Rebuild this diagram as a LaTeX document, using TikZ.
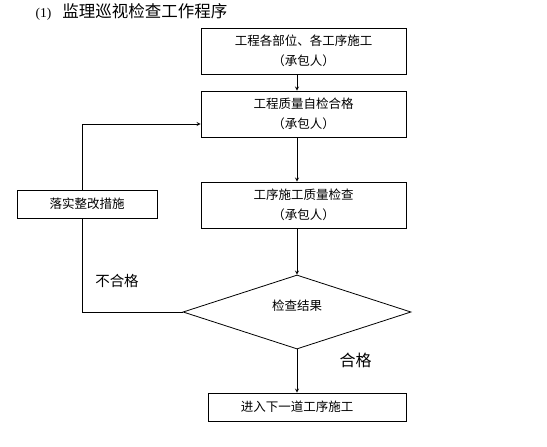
\documentclass[tikz,border=0pt]{standalone}
\usepackage{fontspec}
\setmainfont{Liberation Serif}
\newfontfamily\cjk{Noto Sans CJK SC}
\usetikzlibrary{shapes.geometric}
\begin{document}
\begin{tikzpicture}[x=1pt,y=-1pt]

% definitions
\tikzstyle{process} = [rectangle, minimum width=205pt, minimum height=46pt, inner sep=0pt, text centered, align=center, draw=black, line width=0.8pt, font=\cjk\fontsize{12.5}{20}\selectfont]

\tikzstyle{smallbox} = [rectangle, minimum height=28pt, inner sep=0pt, text centered, draw=black, fill=white, line width=0.8pt, font=\cjk\fontsize{12.5}{15}\selectfont]

\tikzstyle{decision} = [diamond, minimum width=228pt, minimum height=74pt, inner sep=0pt, draw=black, line width=0.8pt, font=\cjk\fontsize{12.5}{15}\selectfont]

\tikzstyle{remark} = [inner sep=0pt, font=\cjk\fontsize{14.5}{17}\selectfont]

\tikzstyle{arrow} = [->,>=stealth, line width=0.8pt]

\useasboundingbox (0,0) rectangle (547,447);

% the graph
\node (title) [anchor=west, inner sep=0pt] at (35.5,12) {\fontsize{13.5}{16}\selectfont (1)\hspace{11pt}{\cjk\fontsize{16.5}{18}\selectfont 监理巡视检查工作程序}};

\node (b1) [process] at (303.5,51) {工程各部位、各工序施工\\（承包人）};

\node (b2) [process] at (303.5,114) {工程质量自检合格\\（承包人）};

\node (b3) [process] at (303.5,205) {工序施工质量检查\\（承包人）};

\node (chk) [decision] at (297,312) {\raisebox{2pt}[0pt][0pt]{检查结果}};

\node (b4) [smallbox, minimum width=198pt] at (307,407) {进入下一道工序施工\hspace*{20pt}};

\node (no) [remark] at (117,281) {不合格};

\node (yes) [remark, font=\cjk\fontsize{16}{18}\selectfont] at (355.5,360) {合格};

\coordinate (turn) at (82,312);

\draw [arrow] (b1.south -| chk) -- (b2.north -| chk);
\draw [arrow] (b2.south -| chk) -- (b3.north -| chk);
\draw [arrow] (b3.south -| chk) -- (chk.north);
\draw [arrow] (chk.south) -- (b4.north -| chk);
\draw [arrow] (chk.west) -- (turn) |- ([yshift=-10pt]b2.west);

\node (fix) [smallbox, minimum width=140pt] at (87,204) {落实整改措施};

\end{tikzpicture}
\end{document}
